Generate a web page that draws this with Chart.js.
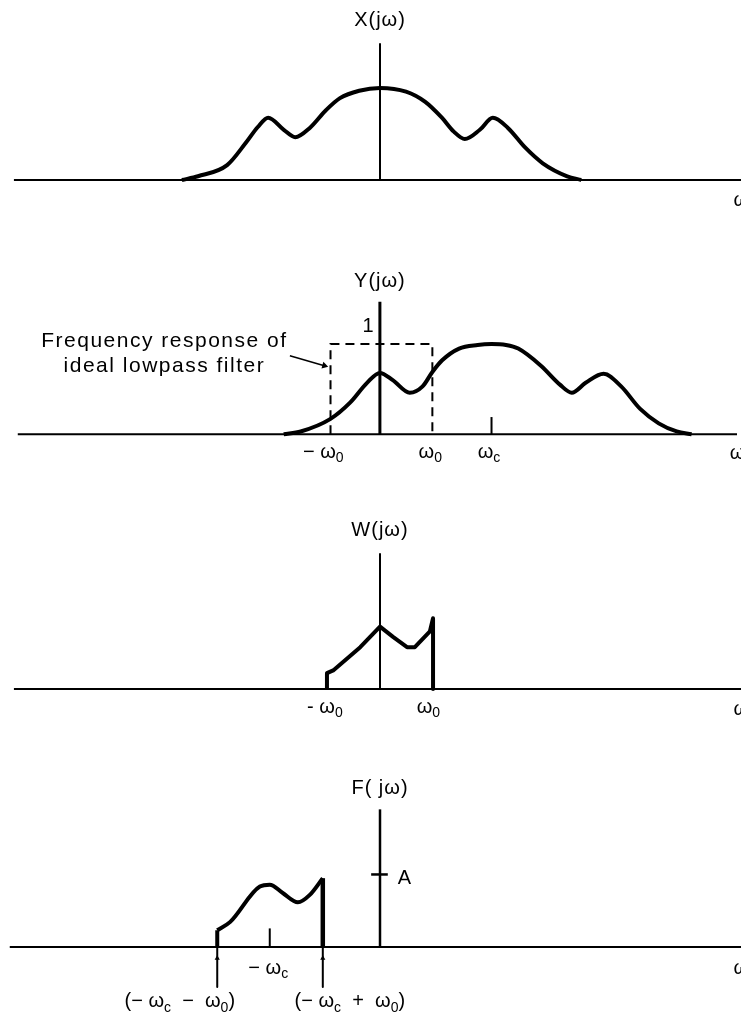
<!DOCTYPE html>
<html>
<head>
<meta charset="utf-8">
<script src="https://cdn.jsdelivr.net/npm/chart.js@4.4.1/dist/chart.umd.min.js"></script>
<style>
  html, body { margin: 0; padding: 0; background: #fff; }
  #page { position: relative; width: 741px; height: 1015px; overflow: hidden; background: #fff; }
  #page canvas { position: absolute; left: 0; }
</style>
</head>
<body>
<div id="page"></div>
<script>
// frequency in units of omega_0, magnitude in units of the filter gain (1)
const X_FREQ = [-3.81, -3.5, -2.94, -2.58, -2.35, -2.15, -1.85, -1.63, -1.35, -1.04, -0.77, -0.4, 0,
                0.5, 0.87, 1.19, 1.42, 1.63, 1.92, 2.17, 2.46, 2.79, 3.13, 3.6, 3.87];
const X_MAG  = [0, 0.04, 0.16, 0.40, 0.57, 0.67, 0.54, 0.46, 0.56, 0.75, 0.88, 0.96, 0.99,
                0.95, 0.84, 0.67, 0.52, 0.44, 0.54, 0.67, 0.56, 0.35, 0.18, 0.04, 0];

const Y_FREQ = [-1.87, -1.54, -0.96, -0.58, -0.25, 0, 0.25, 0.58, 0.83, 1.02, 1.21, 1.54, 1.9,
                2.17, 2.45, 2.69, 3.13, 3.5, 3.73, 4.0, 4.35, 4.69, 5.06, 5.42, 5.77, 6.06];
const Y_MAG  = [0, 0.03, 0.17, 0.35, 0.57, 0.68, 0.60, 0.46, 0.53, 0.69, 0.82, 0.95, 0.99,
                1.0, 0.99, 0.95, 0.76, 0.55, 0.46, 0.57, 0.67, 0.53, 0.28, 0.12, 0.03, 0];

const FILTER_FREQ = [-0.96, -0.96, 1.02, 1.02];
const FILTER_MAG  = [0, 1, 1, 0];

const W_FREQ = [-1.02, -1.02, -0.9, -0.38, 0, 0.25, 0.52, 0.67, 0.96, 1.02, 1.02];
const W_MAG  = [0, 0.17, 0.2, 0.45, 0.67, 0.56, 0.45, 0.45, 0.62, 0.76, 0];

const F_FREQ = [-3.13, -3.13, -2.88, -2.31, -2.12, -1.87, -1.58, -1.35, -1.1, -1.1];
const F_MAG  = [0, 0.18, 0.27, 0.65, 0.67, 0.58, 0.48, 0.56, 0.74, 0];

const IMPULSE_AT = 0;
const IMPULSE_HEIGHT = 1.48;
const IMPULSE_A = 0.78;
const OMEGA_C_Y = 2.17;
const OMEGA_C_F = -2.12;
const AXIS_TOP = [1.47, 1.47, 1.46];

// layout
const PX_X = 52, PX_Y = 93, ORIGIN_X = 380, W = 741;
const X_MIN = -ORIGIN_X / PX_X, X_MAX = (W - ORIGIN_X) / PX_X;
const AXIS_START = -7.04;
const FONT = '"Liberation Sans", Arial, Helvetica, sans-serif';

const pts = (xs, ys) => xs.map((x, i) => ({ x: x, y: ys[i] }));

function line(data, width, extra) {
  return Object.assign({
    data: data, borderColor: '#000', backgroundColor: '#000', borderWidth: width,
    pointRadius: 0, tension: 0, fill: false, borderCapStyle: 'butt', borderJoinStyle: 'round'
  }, extra || {});
}

// text with "_" marking a subscript character
function drawRich(ctx, text, px, py, size, align, spacing) {
  const runs = [];
  for (let i = 0; i < text.length; i++) {
    if (text[i] === '_') { runs.push({ t: text[i + 1], sub: true }); i++; }
    else if (runs.length && !runs[runs.length - 1].sub) runs[runs.length - 1].t += text[i];
    else runs.push({ t: text[i], sub: false });
  }
  ctx.save();
  ctx.fillStyle = '#000';
  ctx.textBaseline = 'middle';
  ctx.textAlign = 'left';
  if ('letterSpacing' in ctx) ctx.letterSpacing = (spacing || 0) + 'px';
  let total = 0;
  runs.forEach(r => {
    r.size = r.sub ? Math.round(size * 0.68) : size;
    ctx.font = r.size + 'px ' + FONT;
    r.w = ctx.measureText(r.t).width;
    total += r.w;
  });
  let x = align === 'left' ? px : align === 'right' ? px - total : px - total / 2;
  runs.forEach(r => {
    ctx.font = r.size + 'px ' + FONT;
    ctx.fillText(r.t, x, r.sub ? py + size * 0.3 : py);
    x += r.w;
  });
  ctx.restore();
}

function textPlugin(labels) {
  return {
    id: 'panelText',
    afterDatasetsDraw(chart) {
      const xs = chart.scales.x, ys = chart.scales.y;
      labels.forEach(l => drawRich(chart.ctx, l.text, xs.getPixelForValue(l.x),
        ys.getPixelForValue(l.y), l.size || 20, l.align || 'center', l.spacing));
    }
  };
}

const axisLine = (start) => line([{ x: start, y: 0 }, { x: X_MAX + 1, y: 0 }], 2);
const vLine = (x, y0, y1, w, extra) => line([{ x: x, y: y0 }, { x: x, y: y1 }], w, extra);

const PANELS = [
  {
    top: 0, height: 250, axis: 180,
    datasets: [
      line(pts(X_FREQ, X_MAG), 4, { cubicInterpolationMode: 'monotone' }),
      vLine(0, 0, AXIS_TOP[0], 2),
      axisLine(AXIS_START)
    ],
    labels: [
      { text: 'X(jω)', x: 0, y: 1.72, spacing: 1 },
      { text: 'ω', x: 6.8, y: -0.22, align: 'left' }
    ]
  },
  {
    top: 250, height: 255, axis: 436,
    datasets: [
      line(pts(Y_FREQ, Y_MAG), 4, { cubicInterpolationMode: 'monotone' }),
      line(pts(FILTER_FREQ, FILTER_MAG), 2, { borderDash: [9, 6], borderJoinStyle: 'miter' }),
      vLine(0, 0, AXIS_TOP[1], 3),
      vLine(OMEGA_C_Y, 0, 0.19, 2),
      line([{ x: -1.75, y: 0.87 }, { x: -1.08, y: 0.76 }], 1.5, {
        pointRadius: [0, 4], pointStyle: 'triangle', pointRotation: [0, 106],
        pointBackgroundColor: '#000', pointBorderWidth: 0
      }),
      axisLine(AXIS_START)
    ],
    labels: [
      { text: 'Y(jω)', x: 0, y: 1.70, spacing: 1 },
      { text: '1', x: -0.23, y: 1.19 },
      { text: 'Frequency response of', x: -4.19, y: 1.03, size: 21, spacing: 1.5 },
      { text: 'ideal lowpass filter', x: -4.19, y: 0.75, size: 21, spacing: 1.5 },
      { text: '− ω_0', x: -1.1, y: -0.2 },
      { text: 'ω_0', x: 0.98, y: -0.2 },
      { text: 'ω_c', x: 2.12, y: -0.2 },
      { text: 'ω', x: 6.8, y: -0.22, align: 'left' }
    ]
  },
  {
    top: 505, height: 255, axis: 689,
    datasets: [
      line(pts(W_FREQ, W_MAG), 4),
      vLine(0, 0, AXIS_TOP[2], 2),
      axisLine(AXIS_START)
    ],
    labels: [
      { text: 'W(jω)', x: 0, y: 1.70, spacing: 1 },
      { text: '- ω_0', x: -1.06, y: -0.2 },
      { text: 'ω_0', x: 0.93, y: -0.2 },
      { text: 'ω', x: 6.8, y: -0.22, align: 'left' }
    ]
  },
  {
    top: 760, height: 255, axis: 947,
    datasets: [
      line(pts(F_FREQ.slice(1, 9), F_MAG.slice(1, 9)), 4, { cubicInterpolationMode: 'monotone' }),
      vLine(F_FREQ[0], F_MAG[0], F_MAG[1], 4),
      vLine(F_FREQ[9], F_MAG[9], F_MAG[8], 4.5),
      line([{ x: F_FREQ[0], y: 0 }, { x: F_FREQ[0], y: -0.12 }, { x: F_FREQ[0], y: -0.43 }], 2, {
        pointRadius: [0, 3, 0], pointStyle: 'triangle', pointBackgroundColor: '#000', pointBorderWidth: 0
      }),
      line([{ x: F_FREQ[9], y: 0 }, { x: F_FREQ[9], y: -0.12 }, { x: F_FREQ[9], y: -0.43 }], 2, {
        pointRadius: [0, 3, 0], pointStyle: 'triangle', pointBackgroundColor: '#000', pointBorderWidth: 0
      }),
      vLine(IMPULSE_AT, 0, IMPULSE_HEIGHT, 2.5),
      line([{ x: -0.17, y: IMPULSE_A }, { x: 0.15, y: IMPULSE_A }], 2.5),
      vLine(OMEGA_C_F, 0, 0.2, 2),
      axisLine(-7.12)
    ],
    labels: [
      { text: 'F( jω)', x: 0, y: 1.70, spacing: 1 },
      { text: 'A', x: 0.34, y: 0.74, align: 'left' },
      { text: '− ω_c', x: -2.15, y: -0.23 },
      { text: '(− ω_c  −  ω_0)', x: -3.85, y: -0.59 },
      { text: '(− ω_c  +  ω_0)', x: -0.58, y: -0.59 },
      { text: 'ω', x: 6.8, y: -0.23, align: 'left' }
    ]
  }
];

const page = document.getElementById('page');

PANELS.forEach(p => {
  const canvas = document.createElement('canvas');
  canvas.width = W;
  canvas.height = p.height;
  canvas.style.top = p.top + 'px';
  page.appendChild(canvas);

  new Chart(canvas.getContext('2d'), {
    type: 'line',
    data: { datasets: p.datasets },
    options: {
      responsive: false,
      animation: false,
      events: [],
      layout: { padding: 0 },
      plugins: { legend: { display: false }, tooltip: { enabled: false } },
      scales: {
        x: { type: 'linear', display: false, min: X_MIN, max: X_MAX },
        y: {
          type: 'linear', display: false,
          min: -(p.top + p.height - p.axis) / PX_Y,
          max: (p.axis - p.top) / PX_Y
        }
      }
    },
    plugins: [textPlugin(p.labels)]
  });
});
</script>
</body>
</html>
